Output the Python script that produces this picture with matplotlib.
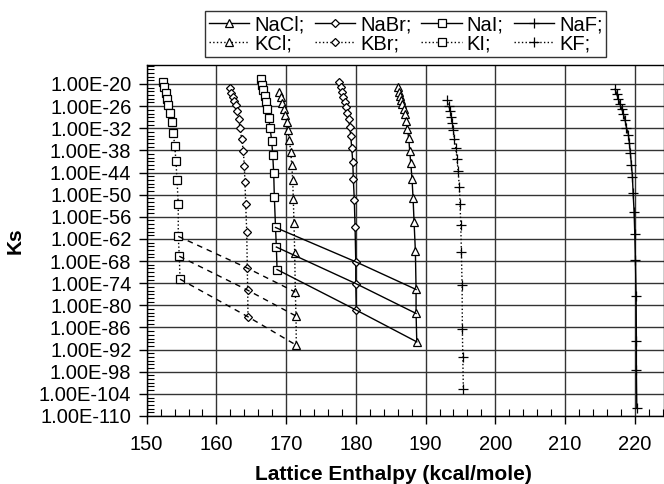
import numpy as np
import matplotlib
matplotlib.use("Agg")
import matplotlib.pyplot as plt
from matplotlib.ticker import FixedLocator, FuncFormatter, MultipleLocator, NullFormatter

plt.rcParams['font.family'] = ['Liberation Sans', 'DejaVu Sans']

# lattice enthalpy (kcal/mole) and log10(Ks)
nacl_x = [186.01, 186.20, 186.38, 186.53, 186.67, 186.87, 187.06, 187.25, 187.39, 187.59,
          187.73, 187.88, 188.06, 188.21, 188.35, 188.54, 188.64, 188.64, 188.74]
nacl_y = [-20.7, -22.1, -23.2, -24.3, -25.5, -26.8, -28.1, -30.0, -32.3, -34.7,
          -38.2, -41.5, -45.8, -51.0, -57.3, -65.3, -75.7, -82.2, -89.9]

nabr_x = [177.63, 177.83, 178.02, 178.21, 178.41, 178.59, 178.78, 178.98, 179.13, 179.27,
          179.41, 179.56, 179.64, 179.78, 179.89, 179.99, 179.99, 180.07]
nabr_y = [-19.5, -20.9, -22.1, -23.4, -24.8, -26.3, -27.9, -29.6, -31.6, -34.1,
          -37.3, -41.2, -45.7, -51.4, -58.8, -68.2, -74.1, -81.3]

nai_x = [166.36, 166.54, 166.73, 166.93, 167.12, 167.30, 167.50, 167.69, 167.93, 168.08,
         168.22, 168.31, 168.48, 168.60, 168.70]
nai_y = [-18.7, -20.2, -21.6, -23.2, -24.8, -26.8, -29.2, -31.8, -35.4, -39.3,
         -44.2, -50.5, -58.9, -64.2, -70.3]

naf_x = [217.19, 217.43, 217.66, 217.90, 218.15, 218.38, 218.62, 218.81, 219.10, 219.24,
         219.38, 219.53, 219.67, 219.77, 219.91, 220.01, 220.10, 220.20, 220.24, 220.24, 220.30]
naf_y = [-21.4, -22.8, -24.1, -25.5, -26.8, -28.2, -29.8, -31.8, -33.8, -36.1,
         -38.8, -42.0, -45.1, -49.6, -54.6, -60.7, -67.7, -77.5, -89.8, -97.5, -107.9]

kcl_x = [169.02, 169.27, 169.45, 169.66, 169.84, 170.09, 170.27, 170.46, 170.66, 170.80,
         170.95, 171.03, 171.13, 171.23, 171.32, 171.42, 171.46]
kcl_y = [-22.1, -23.6, -25.1, -26.8, -28.3, -30.3, -32.5, -35.2, -38.3, -41.9,
         -46.1, -51.2, -57.6, -65.8, -76.4, -82.9, -90.8]

kbr_x = [161.95, 162.14, 162.34, 162.57, 162.77, 162.96, 163.20, 163.39, 163.63, 163.86,
         164.00, 164.10, 164.20, 164.35, 164.43, 164.49, 164.53]
kbr_y = [-21.2, -22.4, -23.4, -24.5, -25.8, -27.3, -29.5, -31.9, -35.0, -38.1,
         -42.1, -46.7, -52.5, -60.0, -69.9, -75.9, -83.1]

ki_x = [152.30, 152.53, 152.73, 152.91, 153.10, 153.34, 153.59, 153.82, 154.02, 154.20,
        154.35, 154.53, 154.53, 154.68, 154.78]
ki_y = [-19.5, -20.9, -22.4, -24.0, -25.6, -27.8, -30.4, -33.3, -36.7, -40.9,
        -46.0, -52.6, -61.3, -66.7, -72.9]

kf_x = [193.13, 193.33, 193.52, 193.70, 193.85, 193.99, 194.13, 194.33, 194.52, 194.66,
        194.85, 194.95, 195.05, 195.14, 195.24, 195.28, 195.34, 195.42]
kf_y = [-24.3, -26.0, -27.2, -28.9, -30.5, -32.5, -35.0, -37.4, -40.4, -43.5,
        -47.8, -52.5, -58.3, -65.6, -74.5, -86.5, -93.9, -102.7]

fig = plt.figure(figsize=(6.64, 4.84), dpi=100)
ax = fig.add_axes([0.2209, 0.1405, 0.7791, 0.7252])

mk = dict(color='black', lw=1.0, markerfacecolor='white', markeredgecolor='black',
          markeredgewidth=0.9)
series = [
    ('NaCl;', nacl_x, nacl_y, '-', '^', 6),
    ('KCl;', kcl_x, kcl_y, ':', '^', 6),
    ('NaBr;', nabr_x, nabr_y, '-', 'D', 4),
    ('KBr;', kbr_x, kbr_y, ':', 'D', 4),
    ('NaI;', nai_x, nai_y, '-', 's', 5.5),
    ('KI;', ki_x, ki_y, ':', 's', 5.5),
    ('NaF;', naf_x, naf_y, '-', '+', 7),
    ('KF;', kf_x, kf_y, ':', '+', 7),
]
for label, xs, ys, ls, m, ms in series:
    ax.plot(xs, 10.0 ** np.array(ys), linestyle=ls, marker=m, markersize=ms,
            label=label, zorder=3, **mk)

# lines joining the last three points of the halides
for i in range(-3, 0):
    ax.plot([ki_x[i], kbr_x[i], kcl_x[i]],
            10.0 ** np.array([ki_y[i], kbr_y[i], kcl_y[i]]),
            color='black', lw=1.0, ls=(0, (4, 3.5)), zorder=4)
    ax.plot([nai_x[i], nabr_x[i], nacl_x[i]],
            10.0 ** np.array([nai_y[i], nabr_y[i], nacl_y[i]]),
            color='black', lw=1.0, ls='-', zorder=4)

ax.set_yscale('log')
ax.set_xlim(150, 224.2)
ax.set_ylim(1e-110, 10 ** -14.85)

ax.xaxis.set_major_locator(MultipleLocator(10))
ax.xaxis.set_minor_locator(MultipleLocator(2))
ax.yaxis.set_major_locator(FixedLocator(10.0 ** np.arange(-110, -19, 6)))
ax.yaxis.set_minor_locator(FixedLocator(10.0 ** np.arange(-110, -14)))
ax.yaxis.set_major_formatter(FuncFormatter(lambda v, p: '1.00E%d' % round(np.log10(v))))
ax.yaxis.set_minor_formatter(NullFormatter())
ax.xaxis.set_minor_formatter(NullFormatter())

ax.grid(True, which='major', color='#333333', lw=1.0)
ax.tick_params(which='major', direction='out', length=6, width=1, labelsize=14.5, pad=5)
ax.tick_params(axis='x', which='major', pad=8)
ax.tick_params(which='minor', direction='in', length=5, width=0.8)
for s in ax.spines.values():
    s.set_color('black')
    s.set_linewidth(1.0)

ax.set_xlabel('Lattice Enthalpy (kcal/mole)', fontsize=15, fontweight='bold')
ax.xaxis.set_label_coords(0.477, -0.14)
ax.set_ylabel('Ks', fontsize=15, fontweight='bold')
ax.yaxis.set_label_coords(-0.235, 0.5)

leg = fig.legend(loc='upper center', bbox_to_anchor=(0.611, 0.977), ncol=4,
                 fontsize=14.5, frameon=True, fancybox=False, handlelength=2.0,
                 handletextpad=0.25, columnspacing=0.5, labelspacing=0.0,
                 borderpad=0.2, borderaxespad=0)
leg.get_frame().set_edgecolor('black')
leg.get_frame().set_linewidth(1.0)

fig.savefig('out.png', dpi=100)
